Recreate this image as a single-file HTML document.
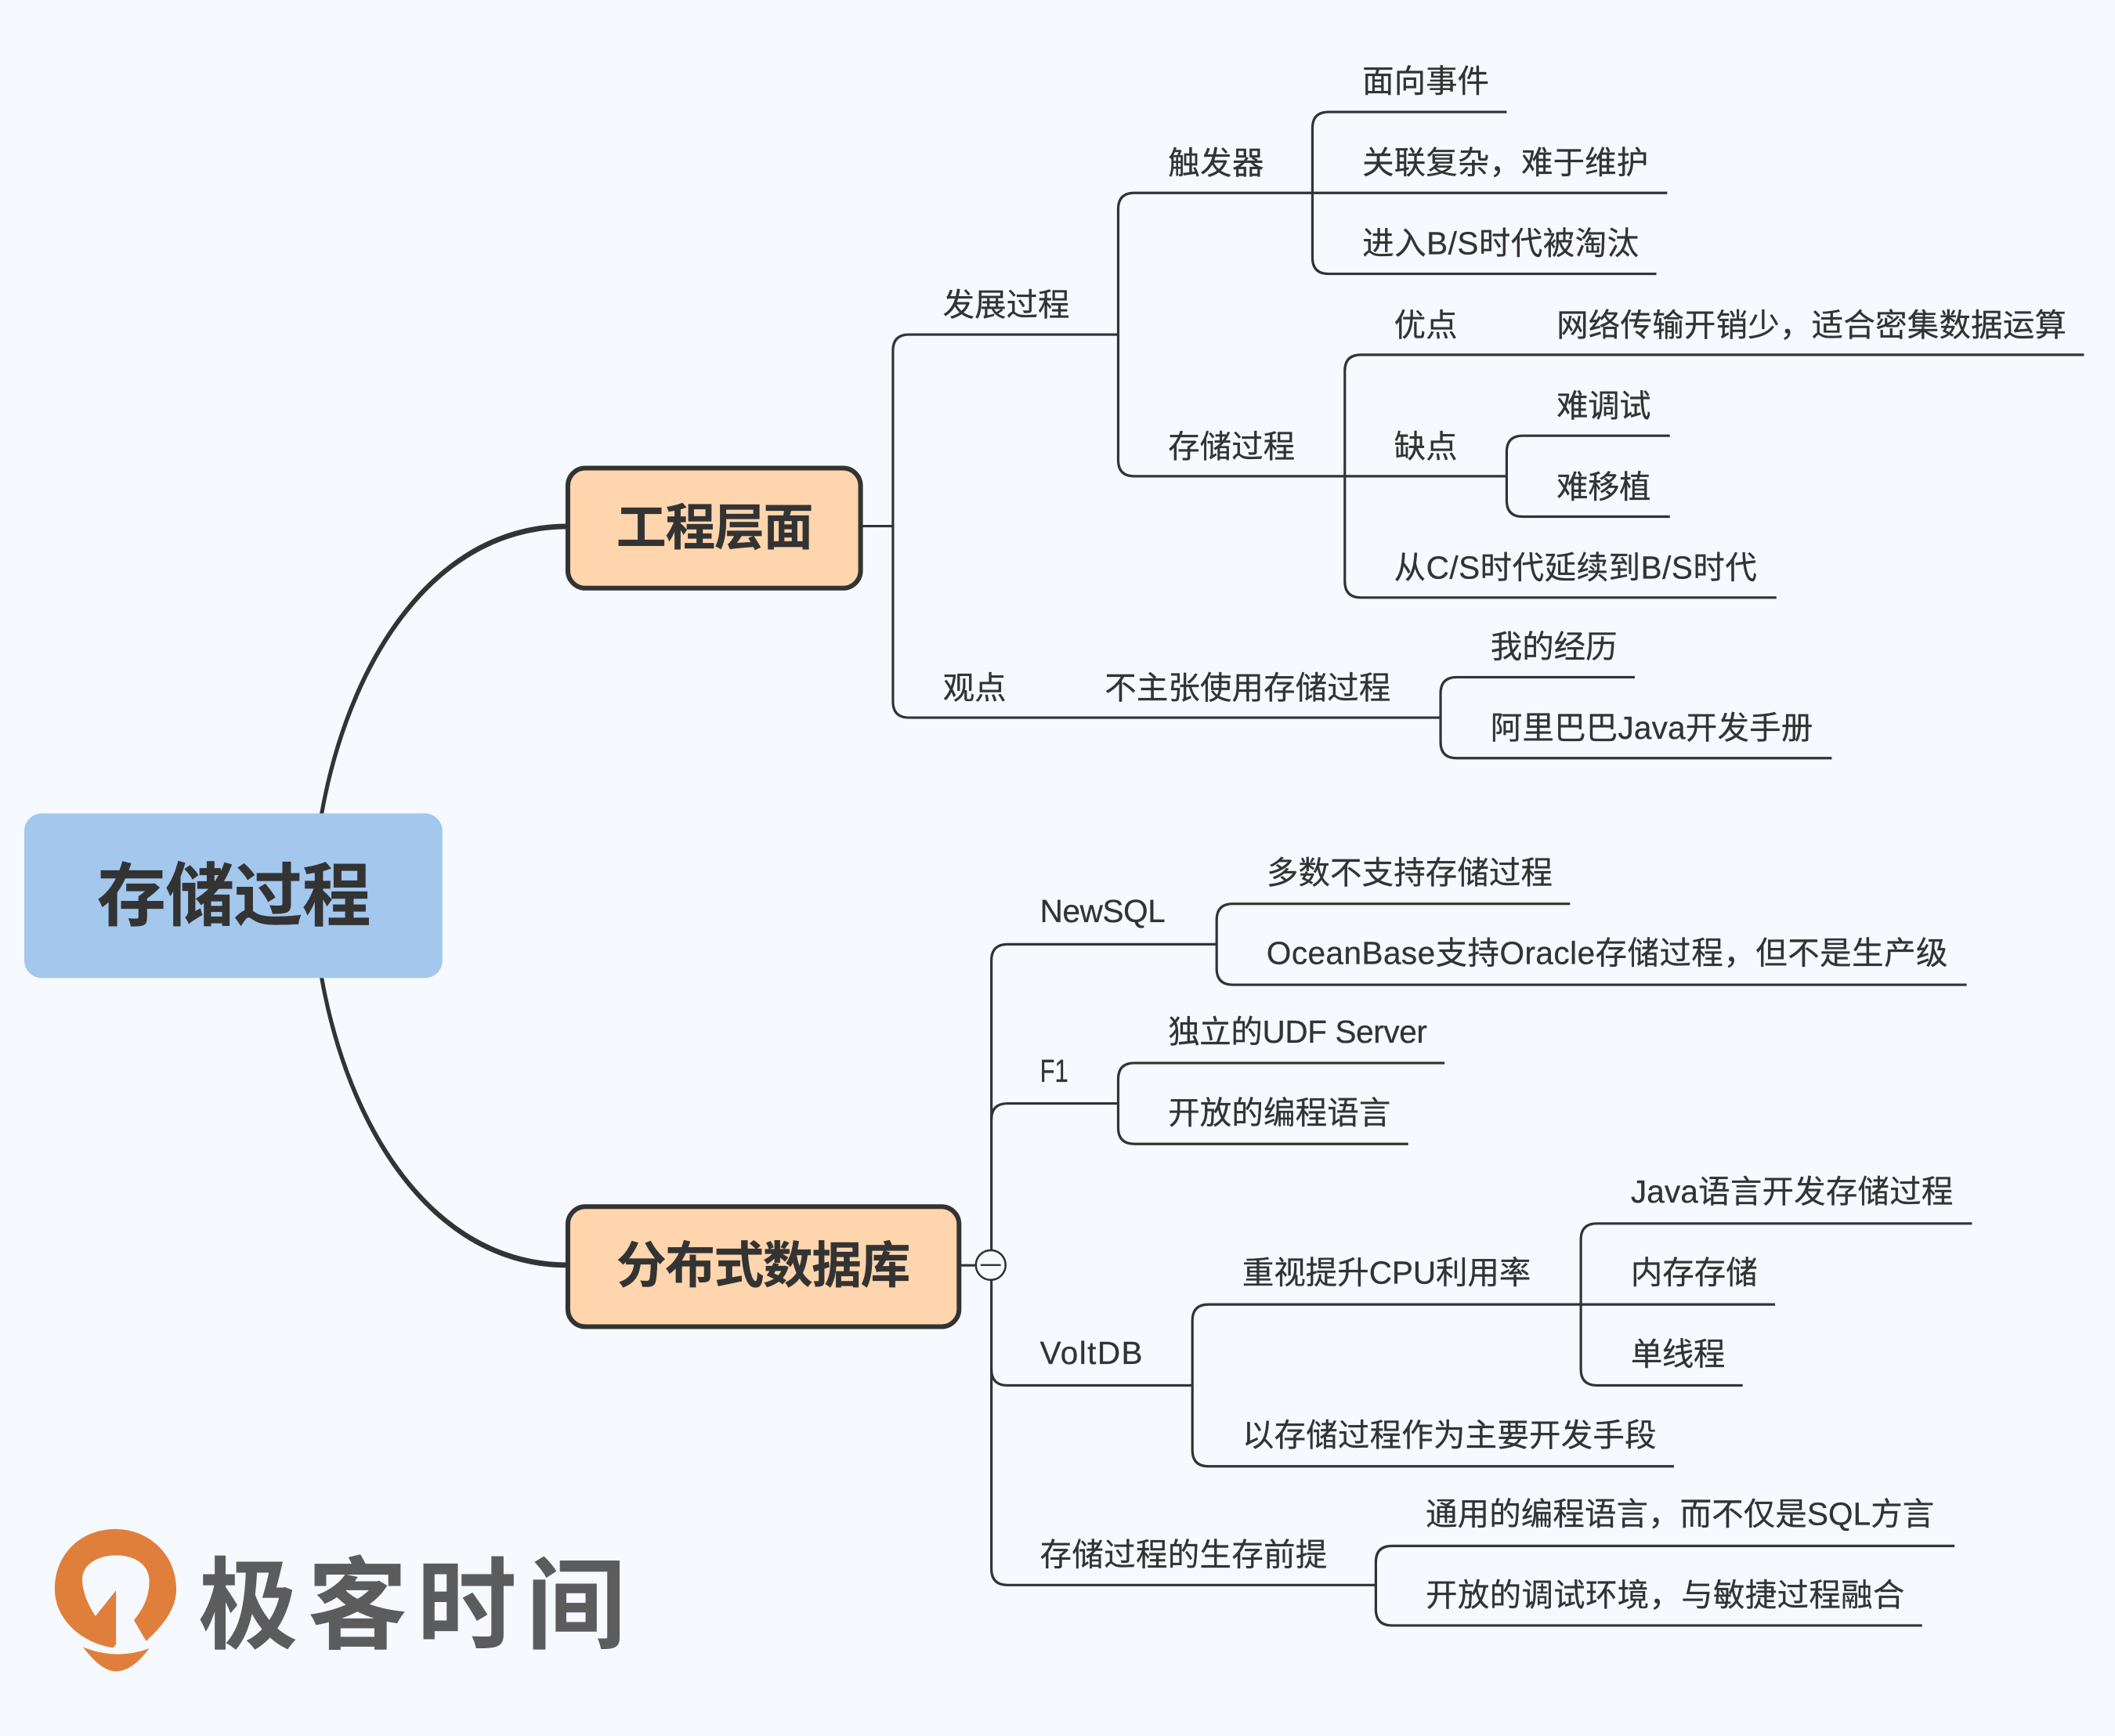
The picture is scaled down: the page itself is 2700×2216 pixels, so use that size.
<!DOCTYPE html>
<html lang="zh">
<head>
<meta charset="utf-8">
<title>存储过程</title>
<style>
html,body{margin:0;padding:0;background:#f6f9fe;}
svg{display:block;width:2700px;height:2216px;}
text{font-family:"Liberation Sans","Noto Sans CJK SC",sans-serif;fill:#333;font-size:23.5px;stroke:#333;stroke-width:.18;}
.b{font-weight:700;}
.l{fill:none;stroke:#333;stroke-width:1.85;}
</style>
</head>
<body>
<svg xmlns="http://www.w3.org/2000/svg" viewBox="0 0 1568 1286.9">
<rect width="1568" height="1287" fill="#f6f9fe"/>

<!-- main curves -->
<path d="M237 603 C257 490 320 388.2 421 388.2 L421 392.2 C322 392.2 260 492 240 603 Z" fill="#333"/>
<path d="M237 725 C257 838 320 939.8 421 939.8 L421 935.8 C322 935.8 260 836 240 725 Z" fill="#333"/>

<!-- central -->
<rect x="18" y="603" width="310" height="122" rx="13" fill="#a3c7ed"/>
<text class="b" x="72" y="682" style="font-size:51px" textLength="203">存储过程</text>

<!-- topics -->
<rect x="421" y="347" width="217" height="89" rx="13" fill="#ffd5ad" stroke="#333" stroke-width="3.5"/>
<text class="b" x="457" y="404" style="font-size:37px" textLength="146">工程层面</text>
<rect x="421" y="894.5" width="290" height="89" rx="13" fill="#ffd5ad" stroke="#333" stroke-width="3.5"/>
<text class="b" x="457" y="951" style="font-size:37px" textLength="218">分布式数据库</text>

<!-- upper branches -->
<path class="l" d="M638 390 H662"/>
<path class="l" d="M829 248 H674 Q662 248 662 260 V520 Q662 532 674 532 H1068"/>
<path class="l" d="M973 143 H841 Q829 143 829 155 V341 Q829 353 841 353 H1117"/>
<path class="l" d="M1117 83 H985 Q973 83 973 95 V191 Q973 203 985 203 H1228"/>
<path class="l" d="M973 143 H1236"/>
<path class="l" d="M1545 263 H1009 Q997 263 997 275 V431 Q997 443 1009 443 H1317"/>
<path class="l" d="M1238 323 H1129 Q1117 323 1117 335 V371 Q1117 383 1129 383 H1238"/>
<path class="l" d="M1212 502 H1080 Q1068 502 1068 514 V550 Q1068 562 1080 562 H1358"/>

<!-- lower branches -->
<path class="l" d="M711 938 H723"/>
<path class="l" d="M902 700 H747 Q735 700 735 712 V1163 Q735 1175 747 1175 H1020"/>
<path class="l" d="M735 830 Q735 818 747 818 H829"/>
<path class="l" d="M735 1015 Q735 1027 747 1027 H884"/>
<path class="l" d="M1164 670 H914 Q902 670 902 682 V718 Q902 730 914 730 H1458"/>
<path class="l" d="M1071 788 H841 Q829 788 829 800 V836 Q829 848 841 848 H1044"/>
<path class="l" d="M1172 967 H896 Q884 967 884 979 V1075 Q884 1087 896 1087 H1241"/>
<path class="l" d="M1462 907 H1184 Q1172 907 1172 919 V1015 Q1172 1027 1184 1027 H1292"/>
<path class="l" d="M1172 967 H1316"/>
<path class="l" d="M1449 1146 H1032 Q1020 1146 1020 1158 V1193 Q1020 1205 1032 1205 H1425"/>

<!-- collapse -->
<circle cx="734.5" cy="937.8" r="11" fill="#f6f9fe" stroke="#333" stroke-width="1.5"/>
<path d="M727 937.8 H742" stroke="#333" stroke-width="1.4"/>

<!-- labels -->
<text x="1010" y="68.3" textLength="94">面向事件</text>
<text x="1010" y="128.5" textLength="212">关联复杂，难于维护</text>
<text x="1010" y="188.5" textLength="205">进入B/S时代被淘汰</text>
<text x="866" y="129" textLength="71">触发器</text>
<text x="699" y="234" textLength="94">发展过程</text>
<text x="1033.5" y="249" textLength="47">优点</text>
<text x="1154" y="249" textLength="378">网络传输开销少，适合密集数据运算</text>
<text x="1154" y="309" textLength="70">难调试</text>
<text x="1033.5" y="339" textLength="47">缺点</text>
<text x="866" y="339" textLength="94">存储过程</text>
<text x="1154" y="369" textLength="70">难移植</text>
<text x="1033.5" y="429" textLength="269">从C/S时代延续到B/S时代</text>
<text x="699" y="518" textLength="47">观点</text>
<text x="819" y="518" textLength="212">不主张使用存储过程</text>
<text x="1105" y="487.5" textLength="94">我的经历</text>
<text x="1105" y="547.5" textLength="239">阿里巴巴Java开发手册</text>
<text x="939" y="655" textLength="212">多数不支持存储过程</text>
<text x="771" y="683.5" textLength="93">NewSQL</text>
<text x="939" y="714.5" textLength="505">OceanBase支持Oracle存储过程，但不是生产级</text>
<text x="866" y="773" textLength="192">独立的UDF Server</text>
<text x="771" y="802" textLength="21" lengthAdjust="spacingAndGlyphs">F1</text>
<text x="866" y="833" textLength="165">开放的编程语言</text>
<text x="1209" y="891.5" textLength="239">Java语言开发存储过程</text>
<text x="921" y="951.5" textLength="214">重视提升CPU利用率</text>
<text x="1209" y="951.5" textLength="94">内存存储</text>
<text x="771" y="1011" textLength="76">VoltDB</text>
<text x="1209" y="1012" textLength="70">单线程</text>
<text x="921" y="1072" textLength="307">以存储过程作为主要开发手段</text>
<text x="1057" y="1130.5" textLength="377">通用的编程语言，而不仅是SQL方言</text>
<text x="771" y="1160.5" textLength="213">存储过程的生存前提</text>
<text x="1057" y="1190.5" textLength="355">开放的调试环境，与敏捷过程融合</text>

<!-- logo -->
<path fill="#e07f3c" d="M86 1179 L70.8 1198 C64 1188 61 1178 61 1171 C61 1160 72 1153 86 1153 C100 1153 110.7 1160 110.7 1172 C110.7 1185 105 1194 99.3 1201 L108.3 1216.6 C122 1204 130.7 1192 130.7 1178 C130.7 1152 110 1133.5 85.6 1133.5 C60 1133.5 40.6 1152 40.6 1178 C40.6 1200 60 1218 84 1221.5 L86 1219 Z"/>
<path fill="#e07f3c" d="M61.6 1221 Q86 1231 110.6 1222 Q98 1239 86 1239 Q75 1239 61.6 1221 Z"/>
<text class="b" x="147" y="1216" textLength="317" style="font-size:74px;fill:#5c5c5c;stroke:none">极客时间</text>
</svg>
</body>
</html>
